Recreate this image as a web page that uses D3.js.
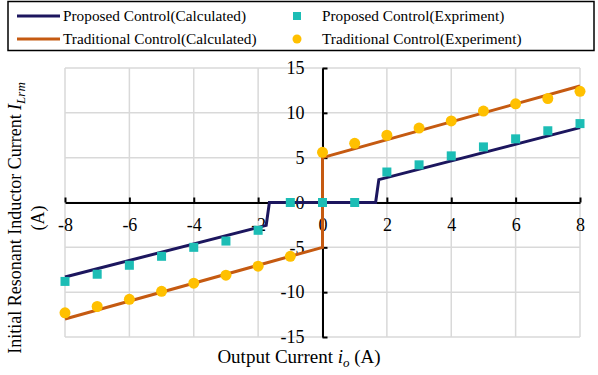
<!DOCTYPE html>
<html lang="en">
<head>
<meta charset="utf-8">
<title>Initial resonant inductor current</title>
<script src="https://cdn.jsdelivr.net/npm/d3@7"></script>
<style>
  body { margin: 0; background: #fff; }
  svg text { font-family: "Liberation Serif", "Times New Roman", serif; }
</style>
</head>
<body>
<script>
// width / height of the picture
var w = 598, h = 375;

// calculated curves
var propCalcX = [-8, -1.75, -1.65, 1.65, 1.75, 8];
var propCalcY = [-8.3, -2.55, 0, 0, 2.55, 8.35];
var tradCalcX = [-8, 0, 0, 8];
var tradCalcY = [-13, -5, 5, 13];

// experiment points
var propExpX = [-8, -7, -6, -5, -4, -3, -2, -1, 0, 1, 2, 3, 4, 5, 6, 7, 8];
var propExpY = [-8.8, -8.0, -7.0, -6.0, -5.0, -4.3, -3.1, 0, 0, 0, 3.4, 4.2, 5.2, 6.2, 7.1, 8.0, 8.8];
var tradExpX = [-8, -7, -6, -5, -4, -3, -2, -1, 0, 1, 2, 3, 4, 5, 6, 7, 8];
var tradExpY = [-12.3, -11.6, -10.8, -9.9, -9.0, -8.1, -7.1, -6.0, 5.6, 6.6, 7.5, 8.3, 9.1, 10.2, 11.0, 11.6, 12.4];

var xTicks = [-8, -6, -4, -2, 0, 2, 4, 6, 8];
var yTicks = [-15, -10, -5, 0, 5, 10, 15];

var legendNames = ["Proposed Control(Calculated)", "Traditional Control(Calculated)",
                   "Proposed Control(Expriment)", "Traditional Control(Experiment)"];

var navy = "#1c165e", orange = "#c55a11", teal = "#1cbdb5", gold = "#ffc000";
var serif = "'Liberation Serif', 'Times New Roman', serif";

var svg = d3.select("body").append("svg")
  .attr("width", w).attr("height", h);

var xScale = d3.scaleLinear().domain([-8, 8]).range([65, 580]);
var yScale = d3.scaleLinear().domain([-15, 15]).range([337, 68]);

// grid
svg.append("g").selectAll("line")
  .data(xTicks).enter().append("line")
  .attr("x1", function(d) { return xScale(d); })
  .attr("x2", function(d) { return xScale(d); })
  .attr("y1", yScale(15)).attr("y2", yScale(-15))
  .attr("stroke", "#d9d9d9").attr("stroke-width", 1.5);
svg.append("g").selectAll("line")
  .data(yTicks).enter().append("line")
  .attr("y1", function(d) { return yScale(d); })
  .attr("y2", function(d) { return yScale(d); })
  .attr("x1", xScale(-8)).attr("x2", xScale(8))
  .attr("stroke", "#d9d9d9").attr("stroke-width", 1.5);

// axes through the origin
var fmt = function(d) { return String(d); };
var xAxis = d3.axisBottom(xScale).tickValues(xTicks).tickFormat(fmt)
  .tickSizeInner(-5).tickSizeOuter(0).tickPadding(16);
var yAxis = d3.axisLeft(yScale).tickValues(yTicks).tickFormat(fmt)
  .tickSizeInner(-5).tickSizeOuter(0).tickPadding(18);

var gx = svg.append("g")
  .attr("transform", "translate(0," + yScale(0) + ")")
  .call(xAxis);
var gy = svg.append("g")
  .attr("transform", "translate(" + xScale(0) + ",0)")
  .call(yAxis);

[gx, gy].forEach(function(g) {
  g.attr("font-family", serif).attr("font-size", 18);
  g.select(".domain").attr("stroke", "#000").attr("stroke-width", 2);
  g.selectAll(".tick line").attr("stroke", "#000").attr("stroke-width", 2);
  g.selectAll(".tick text")
    .style("font-family", serif)
    .style("font-size", "18px").attr("fill", "#000");
});

// lines
var line = d3.line()
  .x(function(d) { return xScale(d[0]); })
  .y(function(d) { return yScale(d[1]); });

svg.append("path")
  .datum(d3.zip(tradCalcX, tradCalcY))
  .attr("d", line).attr("fill", "none")
  .attr("stroke", orange).attr("stroke-width", 3);
svg.append("path")
  .datum(d3.zip(propCalcX, propCalcY))
  .attr("d", line).attr("fill", "none")
  .attr("stroke", navy).attr("stroke-width", 3);

// markers
var sq = 9;
svg.append("g").selectAll("rect")
  .data(d3.zip(propExpX, propExpY)).enter().append("rect")
  .attr("x", function(d) { return xScale(d[0]) - sq / 2; })
  .attr("y", function(d) { return yScale(d[1]) - sq / 2; })
  .attr("width", sq).attr("height", sq)
  .attr("fill", teal);
svg.append("g").selectAll("circle")
  .data(d3.zip(tradExpX, tradExpY)).enter().append("circle")
  .attr("cx", function(d) { return xScale(d[0]); })
  .attr("cy", function(d) { return yScale(d[1]); })
  .attr("r", 5.5)
  .attr("fill", gold);

// axis titles
var xt = svg.append("text")
  .attr("x", 299).attr("y", 363)
  .attr("text-anchor", "middle").style("font-size", "19px");
xt.append("tspan").text("Output Current ");
xt.append("tspan").attr("font-style", "italic").text("i");
xt.append("tspan").attr("font-style", "italic").style("font-size", "13px").attr("dy", 4).text("o");
xt.append("tspan").attr("dy", -4).text(" (A)");

var yt = svg.append("g").attr("transform", "translate(0,218) rotate(-90)");
var yt1 = yt.append("text").attr("x", 0).attr("y", 21)
  .attr("text-anchor", "middle").style("font-size", "18px");
yt1.append("tspan").text("Initial Resonant Inductor Current ");
yt1.append("tspan").attr("font-style", "italic").text("I");
yt1.append("tspan").attr("font-style", "italic").style("font-size", "13px").attr("dy", 4).text("Lrm");
yt.append("text").attr("x", 0).attr("y", 44)
  .attr("text-anchor", "middle").style("font-size", "18px").text("(A)");

// legend
svg.append("rect")
  .attr("x", 8).attr("y", 1.5).attr("width", 586).attr("height", 49)
  .attr("fill", "#fff").attr("stroke", "#000").attr("stroke-width", 1.5);

var rowY = [16, 39];
[navy, orange].forEach(function(c, i) {
  svg.append("line")
    .attr("x1", 17).attr("x2", 60)
    .attr("y1", rowY[i]).attr("y2", rowY[i])
    .attr("stroke", c).attr("stroke-width", 3);
  svg.append("text").attr("x", 63).attr("y", rowY[i]).attr("dy", "0.35em")
    .style("font-size", "15.3px").text(legendNames[i]);
});
svg.append("rect").attr("x", 293).attr("y", rowY[0] - 4)
  .attr("width", 8).attr("height", 8).attr("fill", teal);
svg.append("circle").attr("cx", 297).attr("cy", rowY[1]).attr("r", 4.5).attr("fill", gold);
[2, 3].forEach(function(k, i) {
  svg.append("text").attr("x", 322).attr("y", rowY[i]).attr("dy", "0.35em")
    .style("font-size", "15.3px").text(legendNames[k]);
});
</script>
</body>
</html>
